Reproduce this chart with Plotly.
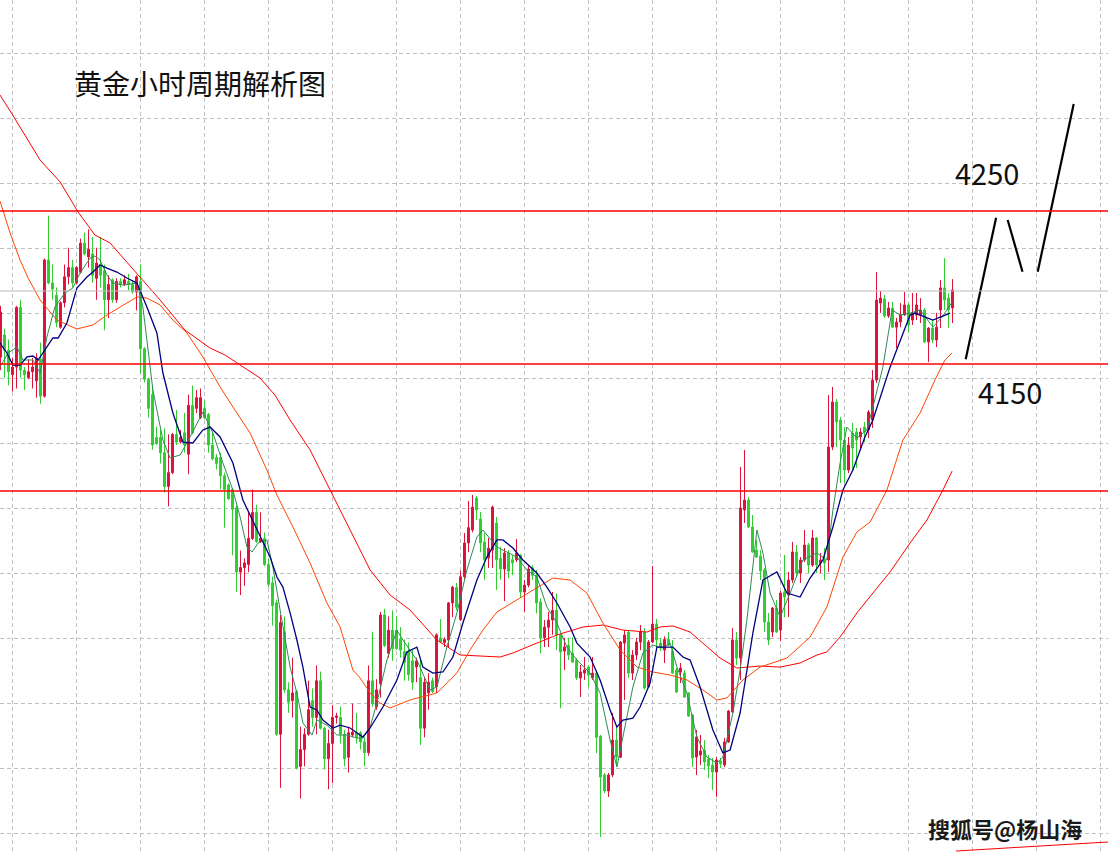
import plotly.graph_objects as go

# ---------------- candle data (hourly gold, price units) ----------------
open_ = [4154.5,4169,4159,4143,4148,4187,4146,4141,4145,4139,
4153,4129,4218,4203,4195,4174,4190,4207,4213,4203,
4210,4229,4220,4222,4206,4215,4211,4192,4205,4192,
4204,4202,4204,4202,4197,4204,4160,4140,4130,4102,
4102,4092,4070,4079,4104,4099,4105,4091,4123,4121,
4115,4121,4117,4097,4089,4089,4077,4071,4068,4056,
4014,4017,4019,4036,4053,4034,4036,4019,4007,3994,
3908,3975,3937,3930,3936,3887,3898,3908,3930,3919,
3943,3912,3892,3902,3919,3919,3908,3893,3907.5,3909,
3909,3903,3896,3943,3926,3941,3986,3961,3976,3976,
3970,3962,3962,3956,3952,3945,3912,3935,3943,3939,
3971,3968,3969.6,3993.8,4004,3983,4011,4033,4041.5,4062.4,
4048.7,4033.7,4023.2,4028.4,4046,4023,4016,4026.5,4022,4022,
4025,4001,4005.5,4016.7,4012,3994.5,3971,3978,3982.7,3989,
3973,3962.4,3966,3961,3956.5,3944.8,3948,3952,3944.8,3948,
3906.8,3881.4,3870.9,3881.4,3904.2,3893,3967.6,3974.8,3948,3959.8,
3968.3,3974.8,3938.9,3968.3,3980,3967.6,3963,3970,3962.4,3950,
3948.7,3948,3935,3920.6,3893.1,3894.4,3897.7,3891.8,3887.9,3883.3,
3890.5,3887.9,3903,3922.6,3969.6,3957.8,4054.6,4061.1,4043.5,4028.4,
4024.5,4015.4,3981.4,3974.8,3990.5,3976.1,4001,3999,4008.8,4027.1,
4013.4,4021.9,4031.7,4018.6,4036.3,4019.9,4021.9,4021.9,4095.7,4125.2,
4113.4,4100.3,4080.7,4104.9,4105.5,4102.3,4108.8,4106.9,4113.4,4139.5,
4189.8,4192.5,4181.4,4186.6,4174.1,4177.4,4182,4188.6,4178.7,4182,
4182,4185.3,4164.4,4173.5,4165.7,4185.3,4199.7,4193.1,4186.6]

high = [4188,4173,4166,4154,4188,4192,4148,4153,4154,4157,
4164,4219,4247,4215,4200,4191,4215,4226,4218,4214,
4232,4236,4238,4233,4226,4233,4215,4208,4206,4206,
4206,4208,4209,4204,4208,4215,4161,4141,4136,4109,
4107,4108,4104,4105,4120,4107,4118,4130,4136,4133,
4134,4126,4118,4105,4091,4092,4079,4072,4069,4058,
4028,4023,4053,4068,4058,4053,4040,4023,4011,3996,
3986,3985,3942,3958,3937,3913,3912,3943,3938,3953,
3949,3913,3911,3927,3922,3926,3911,3913,3928,3922,
3910,3906,3953,3975,3944,3988,3990,3985,3989,3985,
3978,3970,3968,3963,3958,3956.5,3945.4,3948,3945,3974,
3983.3,3971.5,3994.5,4005,4007,4015,4039.5,4060.5,4064.4,4063.7,
4053.3,4039.5,4036.3,4057.5,4050,4030.4,4029.7,4028.4,4025,4035.6,
4025.8,4008.8,4018.6,4018.6,4015.4,3997,3982.7,3988,4001,4000,
3974,3971,3971,3971.5,3957.8,3953.3,3958.5,3953.3,3958.5,3950,
3907.5,3882.7,3882.7,3921.9,3912.7,3969,3976,3976,3963,3971,
3979.4,3977.4,3969.6,4018,3983.3,3971,3972,3974.8,3969.6,3951.3,
3954.6,3950,3935.6,3921.2,3910.8,3907.5,3904.2,3894.4,3892.5,3893.1,
3892.5,3905.6,3923.9,3977.4,3974.8,4082.7,4093.8,4063,4051.3,4035,
4028.4,4016.7,3987.3,3991.2,3995.8,4001.6,4025.2,4014.1,4033.7,4031.7,
4023.8,4041.5,4033,4041.5,4037,4026.5,4029.7,4129.7,4135,4127.1,
4115.3,4108.8,4102.3,4111.5,4108.2,4108.2,4112.1,4119.9,4146.1,4210.1,
4197.7,4195.1,4190.5,4190.5,4180.1,4189.8,4197.1,4189.8,4196.4,4196.4,
4193.1,4186.6,4174.1,4178.7,4183.4,4204.9,4219.2,4196.4,4205.5]

low = [4146,4141,4136,4132,4134,4141,4133,4140,4134,4128,
4124,4128,4202,4192,4174,4173,4187,4202,4200,4202,
4209,4221,4213,4203,4192,4200,4172,4180,4190,4190,
4200,4201,4198,4196,4185,4144,4138,4115,4094,4097,
4085,4066,4057,4078,4097,4098,4092,4078,4104,4118,
4114,4114,4092,4087,4081,4068,4043,4061,4025,4001,
3999,4005,4014,4035,4033,4033,4018,4004,3979,3907,
3873,3935,3922,3919,3885,3866,3887,3907,3913,3908,
3911,3885,3872,3876,3915,3902,3887,3883,3906,3902,
3898,3887,3894,3926,3924,3932,3965,3958,3956,3963,
3958,3943,3943,3937,3942,3901,3906,3924,3935,3935,
3967.6,3965,3965,3984.6,3989,3982,4009,4027,4040,4048,
4027,4009,4016.7,4016.7,4002.3,4009,3995,4010,4012,4020.6,
3997,3988,4004,4008.8,3987,3961,3965,3965,3973,3963,
3925,3950,3956.5,3954.6,3943.5,3932.3,3943.5,3938.9,3943.5,3895.7,
3840.8,3869.6,3867,3880,3887.9,3892.5,3930.4,3944.8,3943.5,3956.5,
3963,3937,3938.2,3967.6,3964.4,3962.4,3954.6,3965.7,3947.5,3935,
3941.5,3931.7,3919.3,3886.6,3881.4,3887.9,3884.6,3879.4,3871.6,3867,
3886,3886.6,3902.3,3921.9,3953.3,3943.5,4046.1,4042.8,4026.5,4023.2,
4008.8,3974.8,3966.3,3971.5,3974.2,3968.9,3984.6,3984.6,4006.9,4010.8,
4006.9,4020.6,4013.4,4017.3,4013.4,4013.4,4008.8,4014.1,4093.8,4095.7,
4072.2,4072.2,4078.7,4080.7,4082,4095.1,4099,4101.6,4108.2,4137.6,
4183.4,4180.1,4180.1,4173.5,4160.4,4174.1,4181.4,4170.9,4175.5,4178.7,
4176.8,4163.7,4151.3,4163.7,4161.1,4173.5,4185.3,4173.5,4176.8]

close = [4184,4159,4145,4148,4187,4146,4143,4145,4148,4154,
4129,4218,4203,4199,4177,4190,4207,4213,4203,4213,
4229,4222,4225,4208,4216,4208,4192,4202,4192,4204,
4202,4205,4202,4197,4207,4160,4140,4121,4097,4098,
4092,4070,4079,4104,4099,4102,4097,4123,4105,4128,
4128,4115,4097,4088,4085,4077,4068,4062,4055,4014,
4017,4020,4036,4053,4034,4036,4019,4006,3992,3908,
3981,3937,3929,3935,3886,3898,3908,3924,3919,3943,
3912,3892,3902,3919,3920,3908,3892,3909,3909.5,3906,
3903,3896,3943,3928,3937,3986,3966,3976,3964,3964,
3963,3955,3947,3942,3956,3912,3942,3942,3936,3973,
3968.3,3970,3993.8,4004.2,3991,4011,4033,4043,4056.5,4054.6,
4033,4022,4029.7,4056.5,4022,4016,4026.5,4014.7,4020,4026.5,
4001,4005.5,4016,4012,3993.8,3971,3978,3982.7,3989,3973,
3961.8,3965,3959.8,3955.2,3944.8,3948.7,3950,3946.7,3948,3906,
3880,3870.9,3881.4,3904.2,3893.1,3968.3,3972.8,3948,3959.8,3968.3,
3974.8,3938.2,3968.3,3980,3969.6,3964.4,3970,3966.3,3948,3935.6,
3951.3,3932.3,3919.9,3892.5,3906.2,3897.1,3889.9,3887.3,3883.3,3891.2,
3888.6,3903,3923.2,3969.6,3957.8,4055.9,4061.1,4043.5,4027.1,4023.8,
4014.7,3981.4,3969.6,3990.5,3974.8,4000.3,3997.7,4008.8,4027.1,4013.4,
4021.9,4031.7,4018.6,4036.3,4018.6,4021.9,4019.9,4095.7,4125.2,4112.1,
4100.3,4080.7,4097,4095.1,4100.3,4105.5,4105.5,4118.6,4139.5,4191.8,
4193.1,4181.4,4186.6,4174.1,4177.4,4182,4188.6,4175.5,4183.4,4188.6,
4185.3,4164.4,4173.5,4165.7,4174.1,4199.7,4191.8,4185.3,4198.4]

bars = list(range(len(open_)))

# ---------------- moving averages (bar index, price) ----------------
ma_slow_idx = [-0.125,3.05,9.9,14.9,19.4,23.6,27.4,34.4,39.9,46.1,52.4,56.1,59.9,64.9,68.6,72.4,77.4,82.4,87.4,92.4,97.4,102.4,109.1,114.9,124.9,128.1,134.1,139.1,145.6,150.6,155.6,161.6,164.9,168.1,172.4,175.6,179.9,184.1,189.9,194.9,199.9,204.1,206.6,209.9,214.1,218.1,222.4,227.4,231.6,235.6,237.9]
ma_slow_val = [4325.8,4312.7,4283.3,4269.0,4249.3,4234.3,4229.1,4208.2,4191.8,4172.2,4160.4,4155.9,4149.3,4140.8,4129.7,4113.4,4093.8,4067.6,4041.5,4015.4,3999.0,3989.2,3969.6,3959.8,3958.5,3961.1,3967.6,3972.9,3978.1,3979.4,3976.1,3974.8,3978.1,3978.8,3974.8,3967.6,3957.8,3951.3,3952.6,3951.9,3954.6,3959.8,3961.8,3971.6,3987.3,4000.3,4014.1,4033.0,4048.0,4067.6,4080.0]

ma_mid_idx = [-0.125,2.4,4.9,6.9,9.9,14.1,19.1,23.1,26.6,29.9,34.1,36.6,39.9,43.1,46.6,50.6,54.9,58.1,62.4,66.6,69.1,73.1,77.4,81.6,84.9,88.1,89.9,92.4,94.9,97.4,102.4,109.1,114.1,117.4,120.6,124.1,129.1,134.1,138.1,142.4,146.6,150.6,154.9,159.1,163.1,167.4,171.6,175.6,179.1,181.6,185.6,189.9,196.6,202.4,206.6,210.6,214.1,217.4,221.6,225.6,229.9,233.6,236.1,237.9]
ma_mid_val = [4256.5,4235.6,4217.9,4206.2,4191.8,4178.7,4172.9,4175.5,4182.0,4187.3,4193.8,4193.1,4188.6,4178.7,4170.3,4154.6,4135.0,4121.9,4104.9,4080.7,4064.4,4043.5,4019.9,3993.8,3978.1,3950.0,3944.8,3935.0,3928.4,3925.2,3930.4,3935.0,3948.1,3963.1,3976.1,3987.9,3995.8,4004.2,4010.1,4008.8,4000.3,3980.7,3963.1,3952.0,3948.7,3946.7,3943.5,3936.9,3930.4,3931.7,3943.5,3951.9,3957.8,3971.5,3991.2,4023.8,4040.2,4046.7,4067.6,4100.3,4118.0,4139.5,4152.6,4157.2]

ma_navy_idx = [-0.125,1.6,3.1,4.9,6.6,8.1,9.4,10.6,13.1,14.4,16.6,19.1,21.6,23.1,24.9,26.6,29.1,31.6,34.1,36.6,39.1,40.6,43.1,45.6,48.1,50.6,52.4,54.9,58.1,60.6,64.1,67.4,69.1,70.6,72.4,74.1,75.6,77.4,79.1,80.6,83.1,84.9,87.4,90.6,92.4,95.6,99.1,101.6,104.1,105.6,108.1,110.6,113.1,115.6,119.1,121.6,124.1,125.6,128.1,130.6,134.1,136.6,139.1,142.4,144.1,147.4,149.9,152.4,154.1,155.6,158.1,159.9,162.4,164.1,168.1,170.6,172.4,174.9,178.1,180.6,182.4,184.9,188.1,190.6,194.1,196.6,199.9,202.4,205.6,208.1,210.6,213.1,216.1,218.1,222.4,227.4,228.6,233.1,237.4]
ma_navy_val = [4163.7,4157.2,4149.3,4149.3,4154.6,4155.2,4152.6,4157.2,4167.0,4167.0,4176.8,4199.7,4206.9,4210.1,4214.7,4212.7,4210.1,4206.2,4202.9,4187.3,4170.3,4144.1,4118.0,4099.0,4098.4,4106.9,4108.8,4102.3,4085.3,4061.1,4041.5,4023.8,4010.8,4004.2,3987.3,3969.6,3951.9,3925.8,3923.9,3917.3,3912.1,3914.0,3912.1,3906.2,3912.1,3925.8,3943.5,3961.8,3965.0,3951.9,3948.0,3948.7,3958.5,3980.7,4008.8,4023.8,4035.0,4035.0,4029.7,4021.9,4013.4,4004.2,3993.8,3978.1,3967.6,3958.5,3943.5,3923.9,3912.7,3917.3,3918.6,3925.8,3941.5,3965.0,3965.0,3958.5,3956.5,3938.9,3910.8,3895.8,3897.7,3921.9,3974.2,4008.8,4014.1,4000.3,3997.7,4010.1,4021.9,4043.5,4067.6,4080.7,4102.3,4113.4,4148.0,4182.0,4183.3,4178.7,4183.3]

ma_fast_idx = [-0.125,1.9,4.1,5.6,8.1,9.9,11.6,13.6,16.1,18.1,19.9,22.4,23.6,24.9,26.6,28.1,30.6,34.1,35.6,38.1,40.6,42.4,44.9,47.4,50.6,53.1,55.6,58.1,59.9,61.6,62.9,64.4,66.6,68.1,69.9,72.4,74.1,75.6,77.9,79.1,81.6,84.1,86.6,89.1,90.6,92.4,94.1,96.6,99.1,100.6,104.1,107.4,109.1,111.6,114.1,116.6,119.1,120.6,124.1,126.6,129.1,131.6,134.1,136.6,139.1,141.6,144.1,147.4,149.9,152.4,154.1,155.6,158.1,160.6,163.1,165.6,167.4,169.1,171.6,174.1,176.6,179.1,180.6,183.1,184.9,186.6,189.1,190.6,192.4,194.9,197.4,200.6,204.1,206.6,208.1,209.9,211.6,214.1,216.6,218.1,220.6,222.9,224.9,227.4,229.9,233.1,235.4,237.9]
ma_fast_val = [4148.0,4157.2,4161.1,4152.6,4152.6,4144.1,4167.6,4187.3,4196.4,4199.7,4209.5,4219.2,4220.6,4217.9,4208.2,4202.9,4201.6,4202.9,4187.3,4133.0,4100.3,4088.6,4090.5,4102.3,4118.6,4104.9,4085.3,4067.6,4050.0,4030.4,4027.1,4033.0,4035.0,4017.3,3989.2,3951.9,3934.9,3915.4,3907.5,3917.3,3914.0,3907.5,3907.5,3905.5,3905.5,3912.7,3928.4,3956.5,3976.1,3969.6,3956.5,3936.9,3938.9,3965.0,3987.2,4015.4,4036.9,4041.5,4030.4,4027.1,4023.8,4015.4,4010.8,3991.2,3980.7,3965.0,3956.5,3948.0,3934.9,3904.2,3886.6,3906.2,3938.9,3961.1,3966.3,3964.4,3967.6,3952.0,3934.9,3906.2,3893.1,3889.2,3893.1,3921.9,3950.0,3982.7,4041.5,4026.5,4000.3,3984.6,4000.3,4021.9,4026.5,4021.9,4054.6,4085.3,4108.8,4101.6,4106.9,4121.9,4148.0,4185.3,4182.0,4183.3,4185.3,4174.2,4180.7,4190.5]

# ---------------- horizontal levels and drawn forecast ----------------
red_levels = [4250, 4150, 4067]
grey_level = 4197.7
forecast_idx = [[241.3, 248.9], [251.8, 255.5], [259.3, 268.3]]
forecast_val = [[4153.1, 4245.6], [4244.1, 4210.3], [4210.3, 4319.9]]
trend_idx = [238.9, 276.9]
trend_val = [3831.7, 3837.6]

title_text = "黄金小时周期解析图"
label_upper = "4250"
label_lower = "4150"
watermark = "搜狐号@杨山海"

CJK = "Noto Sans CJK SC"

fig = go.Figure()
fig.add_trace(go.Candlestick(
    x=bars, open=open_, high=high, low=low, close=close,
    increasing=dict(line=dict(color="#DC143C", width=1), fillcolor="#DC143C"),
    decreasing=dict(line=dict(color="#32CD32", width=1), fillcolor="#32CD32"),
    whiskerwidth=0, showlegend=False, hoverinfo="skip"))

fig.add_trace(go.Scatter(x=ma_slow_idx, y=ma_slow_val, mode="lines",
                         line=dict(color="#FF0000", width=1), showlegend=False, hoverinfo="skip"))
fig.add_trace(go.Scatter(x=ma_mid_idx, y=ma_mid_val, mode="lines",
                         line=dict(color="#FF4500", width=1), showlegend=False, hoverinfo="skip"))
fig.add_trace(go.Scatter(x=ma_fast_idx, y=ma_fast_val, mode="lines",
                         line=dict(color="#2E8B57", width=1), showlegend=False, hoverinfo="skip"))
fig.add_trace(go.Scatter(x=ma_navy_idx, y=ma_navy_val, mode="lines",
                         line=dict(color="#000080", width=1.3), showlegend=False, hoverinfo="skip"))

for lv in red_levels:
    fig.add_hline(y=lv, line=dict(color="#FF0000", width=1.3))
fig.add_hline(y=grey_level, line=dict(color="#BDBDBD", width=1.2))

for xs, ys in zip(forecast_idx, forecast_val):
    fig.add_trace(go.Scatter(x=xs, y=ys, mode="lines", line=dict(color="#000000", width=2.2),
                             showlegend=False, hoverinfo="skip"))
fig.add_trace(go.Scatter(x=trend_idx, y=trend_val, mode="lines", line=dict(color="#FF0000", width=1),
                         showlegend=False, hoverinfo="skip", cliponaxis=False))

fig.add_annotation(x=0.065, y=0.903, xref="paper", yref="paper", text=title_text,
                   showarrow=False, xanchor="left", yanchor="middle",
                   font=dict(family=CJK, size=28, color="#111111"))
fig.add_annotation(x=0.8908, y=0.7985, xref="paper", yref="paper", text=label_upper,
                   showarrow=False, xanchor="center", yanchor="middle",
                   font=dict(family=CJK, size=29, color="#111111"))
fig.add_annotation(x=0.9116, y=0.5412, xref="paper", yref="paper", text=label_lower,
                   showarrow=False, xanchor="center", yanchor="middle",
                   font=dict(family=CJK, size=29, color="#111111"))
fig.add_annotation(x=0.907, y=0.028, xref="paper", yref="paper", text="<b>" + watermark + "</b>",
                   showarrow=False, xanchor="center", yanchor="middle",
                   font=dict(family=CJK, size=22, color="#1a1a1a"))

fig.update_layout(
    width=1108, height=852, margin=dict(l=0, r=0, t=0, b=0),
    paper_bgcolor="white", plot_bgcolor="white", showlegend=False,
    xaxis=dict(range=[-0.125, 276.875], showticklabels=False, zeroline=False, showline=False,
               showgrid=True, tick0=3.05, dtick=16, gridcolor="#C0C0C0", gridwidth=1,
               griddash="4px,3px", rangeslider=dict(visible=False), fixedrange=True),
    yaxis=dict(range=[3831.05, 4387.91], showticklabels=False, zeroline=False, showline=False,
               showgrid=True, tick0=4353.07, dtick=42.484, gridcolor="#C0C0C0", gridwidth=1,
               griddash="4px,3px", fixedrange=True),
)

fig.write_html("out.html")
